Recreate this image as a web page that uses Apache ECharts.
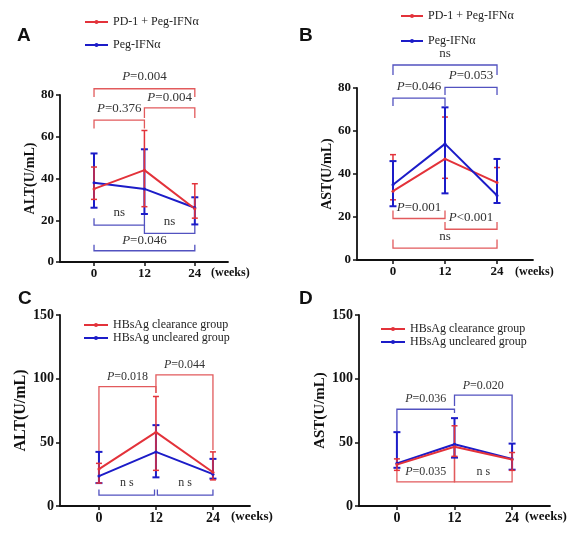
<!DOCTYPE html>
<html>
<head>
<meta charset="utf-8">
<script src="https://cdn.jsdelivr.net/npm/echarts@6/dist/echarts.min.js"></script>
<style>
  html, body { margin: 0; padding: 0; background: #fff; }
  #chart { width: 567px; height: 536px; }
</style>
</head>
<body>
<div id="chart"></div>
<script>
// time points (weeks)
var weeks = [0, 12, 24];
var namesAB = ['PD-1 + Peg-IFNα', 'Peg-IFNα'];
var namesCD = ['HBsAg clearance group', 'HBsAg uncleared group'];

// A: ALT, PD-1 + Peg-IFNα vs Peg-IFNα
var altComboMean = [35, 44, 25.5];
var altComboHi = [45.5, 63, 37.5];
var altComboLo = [30, 26.5, 21];
var altPegMean = [38, 35, 26];
var altPegHi = [52, 54, 31];
var altPegLo = [26, 23, 18];

// B: AST
var astComboMean = [32, 47, 36];
var astComboHi = [49, 66.5, 43];
var astComboLo = [28, 38, 26.5];
var astPegMean = [35, 54, 30];
var astPegHi = [46, 71, 47];
var astPegLo = [25, 31, 26.5];

// C: ALT by HBsAg clearance
var altClearMean = [29, 58, 26.5];
var altClearHi = [33.5, 86, 42.5];
var altClearLo = [18, 28, 20.5];
var altUnclrMean = [23.5, 42.5, 25];
var altUnclrHi = [42.5, 63.5, 37];
var altUnclrLo = [18, 22.5, 21.5];

// D: AST by HBsAg clearance
var astClearMean = [32.5, 46.5, 36.5];
var astClearHi = [37, 63, 42];
var astClearLo = [28, 39, 28];
var astUnclrMean = [33.5, 48.5, 37];
var astUnclrHi = [58, 69, 49];
var astUnclrLo = [30, 38, 28.5];

// significance brackets: [from, to, bar level, left leg end, right leg end, label level]
var bracketsARed = [[0, 24, 83, 79, 79, 88.6], [0, 12, 68, 64, 64, 73.3], [12, 24, 73.8, 69, 69, 78.6]];
var labelsARed = ['P=0.004', 'P=0.376', 'P=0.004'];
var bracketsABlue = [[0, 12, 17.7, 21, 22.5, 23.5], [12, 24, 13.7, 17.7, 18.7, 19.2], [0, 24, 5.4, 8.3, 8.3, 10.5]];
var labelsABlue = ['ns', 'ns', 'P=0.046'];

var bracketsBBlue = [[0, 24, 90.7, 86, 86, 95.8], [0, 12, 75.3, 71.6, 71.6, 80.5], [12, 24, 80.3, 76.7, 76.7, 85.6]];
var labelsBBlue = ['ns', 'P=0.046', 'P=0.053'];
var bracketsBRed = [[0, 12, 19.3, 23, 23, 24.6], [12, 24, 14.3, 17.7, 17.7, 19.5], [0, 24, 5.5, 9.5, 9.5, 10.7]];
var labelsBRed = ['P=0.001', 'P<0.001', 'ns'];

var bracketsCRed = [[0, 12, 93.8, 29, 88.8, 101.5], [12, 24, 102.9, 88.8, 44, 110.7]];
var labelsCRed = ['P=0.018', 'P=0.044'];
var bracketsCBlue = [[0, 11.7, 8.6, 13, 13, 17.8], [12.3, 24, 8.6, 13, 13, 17.8]];
var labelsCBlue = ['n s', 'n s'];

var bracketsDBlue = [[0, 12, 76, 58.4, 73, 83.8], [12, 24, 87, 78.6, 50.5, 94.3]];
var labelsDBlue = ['P=0.036', 'P=0.020'];
var bracketsDRed = [[0, 12, 19, 28.3, 48, 26.5], [12, 24, 19, 48, 28, 26.5]];
var labelsDRed = ['P=0.035', 'n s'];

var RED = '#e3323a';
var BLUE = '#1c1cc8';
var RED_BR = '#e25a5c';
var BLUE_BR = '#5252c0';
var SERIF = '"Liberation Serif", "Times New Roman", serif';
var SANS = '"Liberation Sans", Arial, sans-serif';

var chart = echarts.init(document.getElementById('chart'), null, { renderer: 'canvas' });

function lineSeries(name, idx, mean, color) {
  return {
    name: name,
    type: 'line',
    xAxisIndex: idx,
    yAxisIndex: idx,
    data: weeks.map(function (w, i) { return [w, mean[i]]; }),
    symbol: 'circle',
    symbolSize: 3,
    lineStyle: { color: color, width: 2 },
    itemStyle: { color: color },
    z: 3
  };
}

function errSeries(idx, lo, hi, color, width, cap) {
  return {
    type: 'custom',
    xAxisIndex: idx,
    yAxisIndex: idx,
    clip: false,
    silent: true,
    z: 3,
    data: weeks.map(function (w, i) { return [w, lo[i], hi[i]]; }),
    encode: { x: 0, y: [1, 2] },
    renderItem: function (params, api) {
      var a = api.coord([api.value(0), api.value(1)]);
      var b = api.coord([api.value(0), api.value(2)]);
      var st = { stroke: color, lineWidth: width };
      return {
        type: 'group',
        children: [
          { type: 'line', shape: { x1: a[0], y1: a[1], x2: b[0], y2: b[1] }, style: st },
          { type: 'line', shape: { x1: a[0] - cap, y1: a[1], x2: a[0] + cap, y2: a[1] }, style: st },
          { type: 'line', shape: { x1: b[0] - cap, y1: b[1], x2: b[0] + cap, y2: b[1] }, style: st }
        ]
      };
    }
  };
}

function richLabel(s) {
  if (s.charAt(0) === 'P') return '{i|P}{n|' + s.slice(1) + '}';
  return '{n|' + s + '}';
}

function bracketSeries(idx, rows, labels, color, fontSize) {
  return {
    type: 'custom',
    xAxisIndex: idx,
    yAxisIndex: idx,
    clip: false,
    silent: true,
    z: 2,
    data: rows,
    encode: { x: [0, 1], y: [2] },
    renderItem: function (params, api) {
      var x1 = api.value(0), x2 = api.value(1), y = api.value(2);
      var p1 = api.coord([x1, api.value(3)]);
      var p2 = api.coord([x1, y]);
      var p3 = api.coord([x2, y]);
      var p4 = api.coord([x2, api.value(4)]);
      var t = api.coord([(x1 + x2) / 2, api.value(5)]);
      return {
        type: 'group',
        children: [
          { type: 'polyline', shape: { points: [p1, p2, p3, p4] }, style: { stroke: color, lineWidth: 1.3, fill: null } },
          {
            type: 'text', x: t[0], y: t[1],
            style: {
              text: richLabel(labels[params.dataIndex]),
              align: 'center', verticalAlign: 'middle',
              rich: {
                i: { fontStyle: 'italic', fontFamily: SERIF, fontSize: fontSize, fill: '#333' },
                n: { fontFamily: SERIF, fontSize: fontSize, fill: '#333' }
              }
            }
          }
        ]
      };
    }
  };
}

// panel frames (pixels)
var panels = [
  { left: 60, top: 95, width: 168, height: 167, xmin: -8.1, xmax: 31.9, ymax: 80, yint: 20, yname: 'ALT(U/mL)', gap: 18, nameSize: 14, tickSize: 13 },
  { left: 357, top: 88, width: 176, height: 172, xmin: -8.3, xmax: 32.3, ymax: 80, yint: 20, yname: 'AST(U/mL)', gap: 21, nameSize: 14, tickSize: 13 },
  { left: 60, top: 315, width: 190, height: 191, xmin: -8.2, xmax: 31.8, ymax: 150, yint: 50, yname: 'ALT(U/mL)', gap: 30, nameSize: 16, tickSize: 14 },
  { left: 359, top: 315, width: 191, height: 191, xmin: -7.9, xmax: 31.9, ymax: 150, yint: 50, yname: 'AST(U/mL)', gap: 28, nameSize: 15, tickSize: 14 }
];

var grids = [], xAxes = [], yAxes = [];
panels.forEach(function (p, i) {
  grids.push({ left: p.left, top: p.top, width: p.width, height: p.height, containLabel: false });
  xAxes.push({
    type: 'value', gridIndex: i, min: p.xmin, max: p.xmax,
    axisLine: { show: true, onZero: false, lineStyle: { color: '#111', width: 1.8 } },
    axisTick: { show: true, length: 4, customValues: weeks, lineStyle: { color: '#111', width: 1.5 } },
    axisLabel: { customValues: weeks, margin: 5, color: '#111', fontFamily: SERIF, fontWeight: 'bold', fontSize: p.tickSize },
    splitLine: { show: false }
  });
  yAxes.push({
    type: 'value', gridIndex: i, min: 0, max: p.ymax, interval: p.yint,
    name: p.yname, nameLocation: 'middle', nameGap: p.gap, nameRotate: 90,
    nameTextStyle: { fontFamily: SERIF, fontWeight: 'bold', fontSize: p.nameSize, color: '#111' },
    axisLine: { show: true, onZero: false, lineStyle: { color: '#111', width: 1.8 } },
    axisTick: { show: true, length: 4, lineStyle: { color: '#111', width: 1.5 } },
    axisLabel: { margin: 6, color: '#111', fontFamily: SERIF, fontWeight: 'bold', fontSize: p.tickSize },
    splitLine: { show: false }
  });
});

var series = [
  // A
  bracketSeries(0, bracketsARed, labelsARed, RED_BR, 13),
  bracketSeries(0, bracketsABlue, labelsABlue, BLUE_BR, 13),
  errSeries(0, altPegLo, altPegHi, BLUE, 2, 3.5),
  lineSeries(namesAB[1], 0, altPegMean, BLUE),
  errSeries(0, altComboLo, altComboHi, RED, 1.5, 3),
  lineSeries(namesAB[0], 0, altComboMean, RED),
  // B
  bracketSeries(1, bracketsBBlue, labelsBBlue, BLUE_BR, 13),
  bracketSeries(1, bracketsBRed, labelsBRed, RED_BR, 13),
  errSeries(1, astComboLo, astComboHi, RED, 1.5, 3),
  lineSeries(namesAB[0], 1, astComboMean, RED),
  errSeries(1, astPegLo, astPegHi, BLUE, 2, 3.5),
  lineSeries(namesAB[1], 1, astPegMean, BLUE),
  // C
  bracketSeries(2, bracketsCRed, labelsCRed, RED_BR, 12),
  bracketSeries(2, bracketsCBlue, labelsCBlue, BLUE_BR, 12),
  errSeries(2, altUnclrLo, altUnclrHi, BLUE, 2, 3.5),
  lineSeries(namesCD[1], 2, altUnclrMean, BLUE),
  errSeries(2, altClearLo, altClearHi, RED, 1.5, 3),
  lineSeries(namesCD[0], 2, altClearMean, RED),
  // D
  bracketSeries(3, bracketsDBlue, labelsDBlue, BLUE_BR, 12),
  bracketSeries(3, bracketsDRed, labelsDRed, RED_BR, 12),
  errSeries(3, astUnclrLo, astUnclrHi, BLUE, 2, 3.5),
  lineSeries(namesCD[1], 3, astUnclrMean, BLUE),
  errSeries(3, astClearLo, astClearHi, RED, 1.5, 3),
  lineSeries(namesCD[0], 3, astClearMean, RED)
];

var legendAB = { fontFamily: SERIF, fontSize: 12, color: '#222' };
var legendCD = { fontFamily: SERIF, fontSize: 12, color: '#222' };
var option = {
  animation: false,
  backgroundColor: '#fff',
  grid: grids,
  xAxis: xAxes,
  yAxis: yAxes,
  legend: [
    { data: namesAB, left: 84, top: 16, padding: 0, orient: 'vertical', itemGap: 11, itemWidth: 23, itemHeight: 5, textStyle: legendAB },
    { data: namesAB, left: 400, top: 10, padding: 0, orient: 'vertical', itemGap: 13, itemWidth: 22, itemHeight: 5, textStyle: legendAB },
    { data: namesCD, left: 83, top: 319, padding: 0, orient: 'vertical', itemGap: 1, itemWidth: 24, itemHeight: 5, textStyle: legendCD },
    { data: namesCD, left: 380, top: 323, padding: 0, orient: 'vertical', itemGap: 1, itemWidth: 24, itemHeight: 5, textStyle: legendCD }
  ],
  graphic: [
    { type: 'text', left: 17, top: 26, style: { text: 'A', font: 'bold 19px ' + SANS, fill: '#111' } },
    { type: 'text', left: 299, top: 26, style: { text: 'B', font: 'bold 19px ' + SANS, fill: '#111' } },
    { type: 'text', left: 18, top: 289, style: { text: 'C', font: 'bold 19px ' + SANS, fill: '#111' } },
    { type: 'text', left: 299, top: 289, style: { text: 'D', font: 'bold 19px ' + SANS, fill: '#111' } },
    { type: 'text', left: 211, top: 267, style: { text: '(weeks)', font: 'bold 12px ' + SERIF, fill: '#111' } },
    { type: 'text', left: 515, top: 266, style: { text: '(weeks)', font: 'bold 12px ' + SERIF, fill: '#111' } },
    { type: 'text', left: 231, top: 510, style: { text: '(weeks)', font: 'bold 13px ' + SERIF, fill: '#111' } },
    { type: 'text', left: 525, top: 510, style: { text: '(weeks)', font: 'bold 13px ' + SERIF, fill: '#111' } }
  ],
  series: series
};

chart.setOption(option);
</script>
</body>
</html>
